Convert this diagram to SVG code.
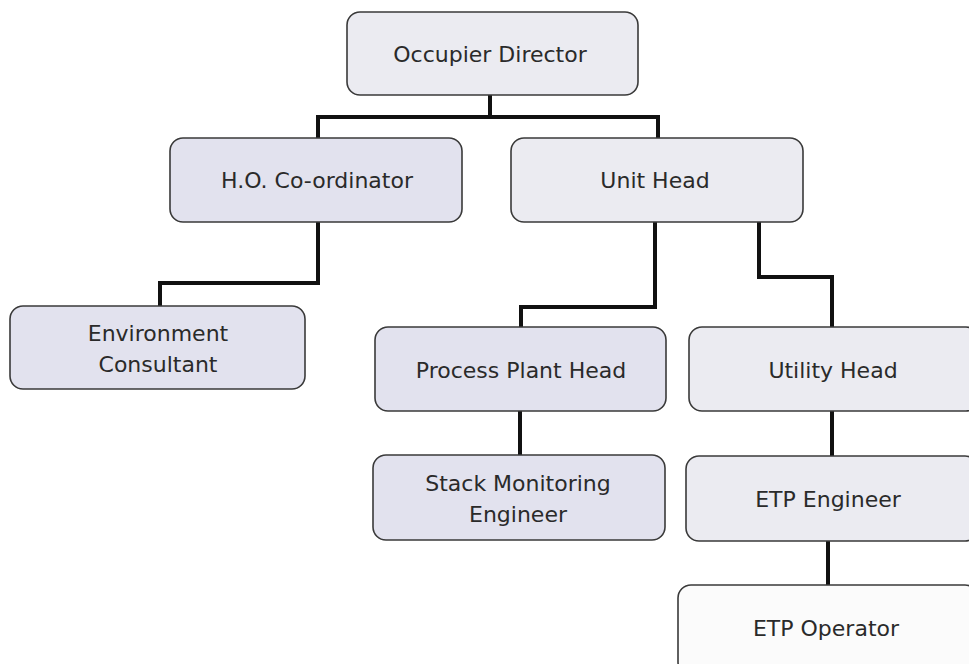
<svg xmlns="http://www.w3.org/2000/svg" width="969" height="664" viewBox="0 0 969 664">
  <style>
    .box { stroke: #3a3a3a; stroke-width: 1.6; }
    .lav { fill: #e2e2ee; }
    .lite { fill: #ebebf1; }
    .white { fill: #fbfbfb; }
    .lbl { font-family: "DejaVu Sans", Verdana, sans-serif; font-size: 22px; fill: #2a2a2a; text-anchor: middle; }
    .conn { fill: none; stroke: #111; stroke-width: 4; stroke-linejoin: miter; }
  </style>
  <rect width="969" height="664" fill="#ffffff"/>
  <g id="connectors">
    <path class="conn" d="M490,95 V117 M318,138 V117 H658 V138"/>
    <path class="conn" d="M318,222 V283 H160 V306"/>
    <path class="conn" d="M655,222 V307 H521 V327"/>
    <path class="conn" d="M759,222 V277 H832 V327"/>
    <path class="conn" d="M520,411 V455"/>
    <path class="conn" d="M832,411 V456"/>
    <path class="conn" d="M828,541 V585"/>
  </g>
  <g id="occupier-director">
    <rect class="box lite" x="347" y="12" width="291" height="83" rx="13"/>
    <text class="lbl" x="490" y="62">Occupier Director</text>
  </g>
  <g id="ho-coordinator">
    <rect class="box lav" x="170" y="138" width="292" height="84" rx="13"/>
    <text class="lbl" x="317" y="188">H.O. Co-ordinator</text>
  </g>
  <g id="unit-head">
    <rect class="box lite" x="511" y="138" width="292" height="84" rx="13"/>
    <text class="lbl" x="655" y="188">Unit Head</text>
  </g>
  <g id="environment-consultant">
    <rect class="box lav" x="10" y="306" width="295" height="83" rx="13"/>
    <text class="lbl" x="158" y="341">Environment</text>
    <text class="lbl" x="158" y="372">Consultant</text>
  </g>
  <g id="process-plant-head">
    <rect class="box lav" x="375" y="327" width="291" height="84" rx="13"/>
    <text class="lbl" x="521" y="378">Process Plant Head</text>
  </g>
  <g id="utility-head">
    <rect class="box lite" x="689" y="327" width="290" height="84" rx="13"/>
    <text class="lbl" x="833" y="378">Utility Head</text>
  </g>
  <g id="stack-monitoring-engineer">
    <rect class="box lav" x="373" y="455" width="292" height="85" rx="13"/>
    <text class="lbl" x="518" y="491">Stack Monitoring</text>
    <text class="lbl" x="518" y="522">Engineer</text>
  </g>
  <g id="etp-engineer">
    <rect class="box lite" x="686" y="456" width="292" height="85" rx="13"/>
    <text class="lbl" x="828" y="507">ETP Engineer</text>
  </g>
  <g id="etp-operator">
    <rect class="box white" x="678" y="585" width="300" height="90" rx="13"/>
    <text class="lbl" x="826" y="636">ETP Operator</text>
  </g>
</svg>
